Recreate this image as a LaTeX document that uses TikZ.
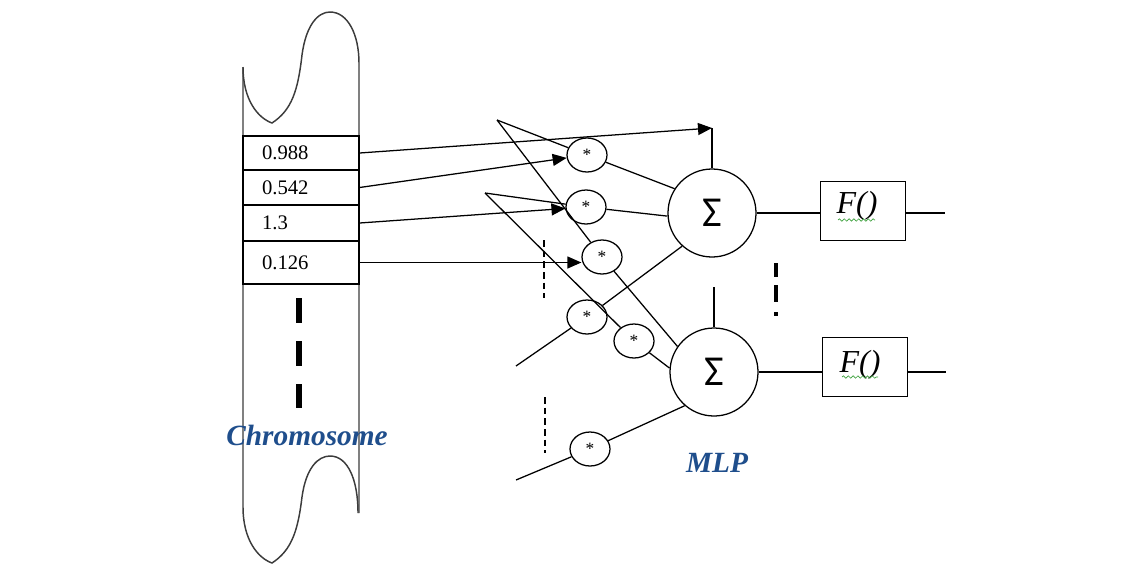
\documentclass[tikz,border=0pt]{standalone}
\usepackage{fontspec}
\setmainfont{Liberation Serif}
\newfontfamily\sigmafont{Carlito}
\usetikzlibrary{arrows.meta,shapes.geometric,decorations.pathmorphing,calc}
\definecolor{chromblue}{RGB}{31,78,140}
\definecolor{chromline}{RGB}{60,60,60}
\definecolor{squiggle}{RGB}{60,160,60}
\begin{document}
\begin{tikzpicture}[x=0.75pt,y=-0.75pt,
  lin/.style={line width=0.95pt,black},
  arr/.style={lin,-{Triangle[length=10.5pt,width=9pt]}},
  cell/.style={draw,line width=0.95pt,rectangle,text width=58.5pt,inner xsep=14.25pt,inner ysep=0pt,align=left,font=\fontsize{15.5}{17}\selectfont},
  mult/.style={ellipse,draw,line width=0.95pt,minimum width=30pt,minimum height=25.5pt,inner sep=0pt,font=\fontsize{13}{13}\selectfont},
  sumnode/.style={circle,draw,line width=0.95pt,minimum size=66pt,inner sep=0pt,font=\sigmafont\fontsize{32}{32}\selectfont},
  fnbox/.style={draw,rectangle,line width=0.95pt,minimum width=63.75pt,minimum height=44.25pt,inner sep=0pt},
  fntext/.style={inner sep=0pt,font=\itshape\fontsize{24}{24}\selectfont},
  lbl/.style={font=\bfseries\itshape\fontsize{22}{22}\selectfont,text=chromblue},
  squig/.style={draw=squiggle,line width=0.5pt,decorate,decoration={snake,amplitude=0.9pt,segment length=3.6pt}}]
\useasboundingbox (0,0) rectangle (1145,565);

% chromosome outline
\draw[line width=1.1pt,chromline] (243,67) .. controls (243,100) and (258,118) .. (272,123)
  .. controls (292,110) and (298,90) .. (302,55)
  .. controls (306,25) and (318,12) .. (330,12)
  .. controls (348,12) and (359,35) .. (359,63) -- (359,513);
\draw[line width=1.1pt,chromline] (243,67) -- (243,507)
  .. controls (243,540) and (258,558) .. (272,563)
  .. controls (292,550) and (298,530) .. (302,497)
  .. controls (306,468) and (318,456) .. (330,456)
  .. controls (348,456) and (358,480) .. (358,513);

% chromosome cells
\node[cell,minimum height=25.5pt]  (b1) at (301,153)   {0.988};
\node[cell,minimum height=26.25pt] (b2) at (301,187.5) {0.542};
\node[cell,minimum height=27pt]    (b3) at (301,223)   {1.3};
\node[cell,minimum height=32.25pt] (b4) at (301,262.5) {0.126};

\draw[line width=4.5pt,dash pattern=on 18.75pt off 13.5pt] (299,298) -- (299,408);
\node[lbl] (chrom) at (307,435) {Chromosome};

% multipliers
\node[mult] (st1) at (587,155) {\raisebox{-3pt}{*}};
\node[mult] (st2) at (586,207) {\raisebox{-3pt}{*}};
\node[mult] (st3) at (602,257) {\raisebox{-3pt}{*}};
\node[mult] (st4) at (587,317) {\raisebox{-3pt}{*}};
\node[mult] (st5) at (634,341) {\raisebox{-3pt}{*}};
\node[mult] (st6) at (590,449) {\raisebox{-3pt}{*}};

% summing nodes
\node[sumnode] (s1) at (712,213) {Σ};
\node[sumnode] (s2) at (714,372) {Σ};

% activation boxes
\node[fnbox] (f1) at (863,211) {};
\node[fnbox] (f2) at (865,367) {};
\node[fntext] (f1t) at (857,206) {F()};
\node[fntext] (f2t) at (860,365) {F()};
\draw[squig] (838,220) -- (875,220);
\draw[squig] (842,377) -- (878,377);

\node[lbl] (mlp) at (717,463) {MLP};

% coordinates
\coordinate (c1) at (712,128);
\coordinate (v2) at (714,287);
\coordinate (a1) at (497,120);
\coordinate (a2) at (485,193);
\coordinate (e4) at (516,366);
\coordinate (e6) at (516,480);
\coordinate (o1) at (945,213);
\coordinate (o2) at (946,372);

% chromosome to network
\draw[arr] (b1.east) -- (c1);
\draw[arr] (b2.east) -- (st1);
\draw[arr] (b3.east) -- (st2);
\draw[arr] (b4.east) -- (b4.east -| st3.west);

% inputs
\draw[lin] (a1) -- (st1);
\draw[lin] (a1) -- (st3);
\draw[lin] (a2) -- (st2);
\draw[lin] (a2) -- (st5);
\draw[lin] (e4) -- (st4);
\draw[lin] (e6) -- (st6);

% to sums
\draw[lin] (c1) -- (s1.north);
\draw[lin] (st1) -- (s1.147);
\draw[lin] (st2) -- (s1.184);
\draw[lin] (st4) -- (s1.228);
\draw[lin] (v2) -- (s2.north);
\draw[lin] (st3) -- (s2.145);
\draw[lin] (st5) -- (s2.175);
\draw[lin] (st6) -- (s2.229);

% outputs
\draw[lin] (s1.east) -- (s1.east -| f1.west);
\draw[lin] (f1.east |- s1.east) -- (o1);
\draw[lin] (s2.east) -- (s2.east -| f2.west);
\draw[lin] (f2.east |- s2.east) -- (o2);

% ellipsis dashes
\draw[line width=0.8pt,dash pattern=on 5pt off 3pt] (544,240) -- (544,298);
\draw[line width=0.8pt,dash pattern=on 5pt off 3pt] (545,397) -- (545,453);
\draw[line width=2.5pt] (776,263) -- (776,277);
\draw[line width=2.5pt] (776,285) -- (776,302);
\draw[line width=2.5pt] (776,312) -- (776,316);
\end{tikzpicture}
\end{document}
